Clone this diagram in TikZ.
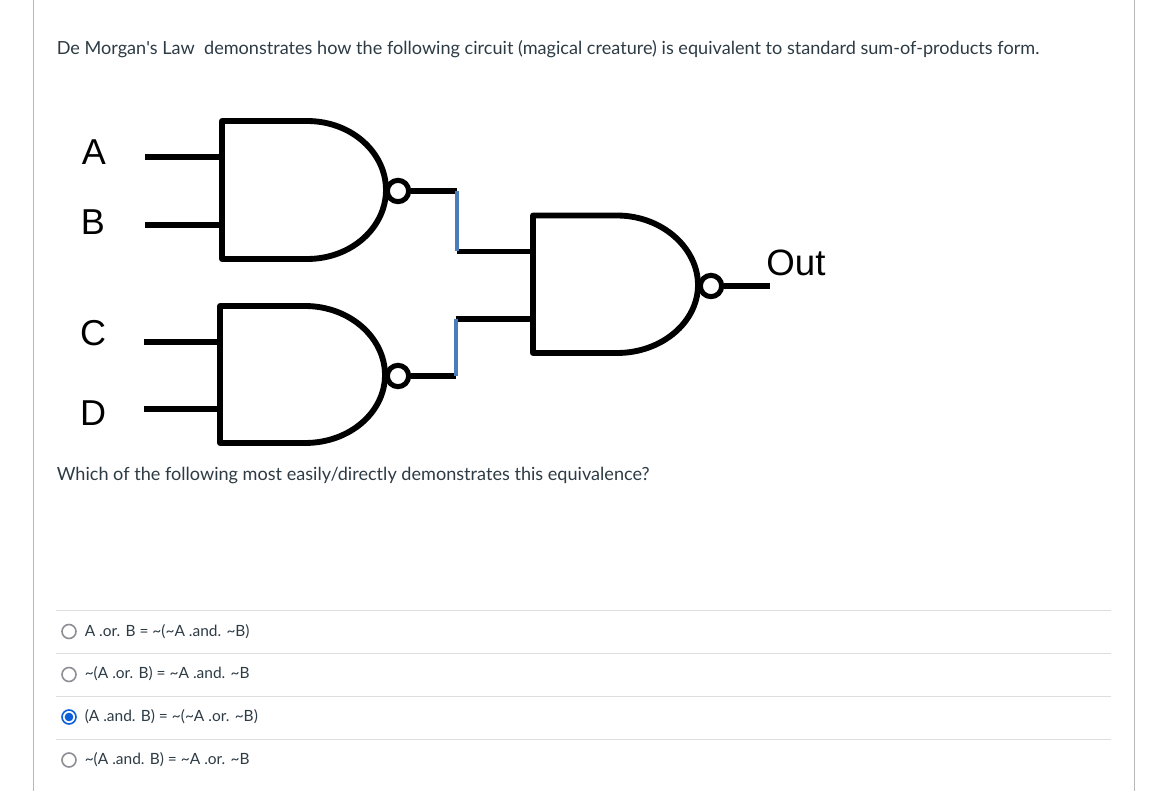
\documentclass[tikz,border=0pt]{standalone}
\usepackage{fontspec}
\setmainfont{Lato}
\newfontfamily\arialfont{Liberation Sans}
\newcommand{\nt}{\textasciitilde}
\definecolor{wireblue}{HTML}{4A7EBB}
\definecolor{rulegray}{HTML}{DCDEDF}
\definecolor{framegray}{HTML}{B5B7B9}
\definecolor{radiogray}{HTML}{8D8F95}
\definecolor{radioblue}{HTML}{0C5FD8}
\definecolor{textgray}{HTML}{2D3B45}
\tikzset{
  gatebody/.style={line width=4.4pt,line join=round},
  wire/.style={line width=3.8pt},
  bluewire/.style={line width=3.2pt,color=wireblue},
  bubble/.style={draw,circle,line width=3.8pt,inner sep=0,minimum size=16pt,fill=white},
  pinlabel/.style={font=\arialfont\fontsize{27}{30}\selectfont,inner sep=0},
  bodytext/.style={font=\fontsize{13.57}{16}\selectfont,color=textgray,anchor=base west,inner sep=0},
  answer/.style={font=\fontsize{11.6}{14}\selectfont,color=textgray,anchor=base west,inner sep=0},
  radio/.style={draw=radiogray,circle,line width=1.2pt,inner sep=0,minimum size=10.5pt,fill=white},
  answerrule/.style={draw=rulegray,line width=0.75pt},
}
\begin{document}
\begin{tikzpicture}[x=0.75pt,y=-0.75pt]
  \useasboundingbox (0,0) rectangle (1156,791);

  % page frame
  \coordinate (frameLT) at (33.5,0);
  \coordinate (frameLB) at (33.5,791);
  \coordinate (frameRT) at (1134.5,0);
  \coordinate (frameRB) at (1134.5,791);
  \draw[framegray,line width=0.75pt] (frameLT) -- (frameLB);
  \draw[framegray,line width=0.75pt] (frameRT) -- (frameRB);

  \node[bodytext] (intro) at (56.5,54.7) {De Morgan\textquotesingle s Law\ \ demonstrates how the following circuit (magical creature) is equivalent to standard sum-of-products form.};
  \node[bodytext] (question) at (56.5,480) {Which of the following most easily/directly demonstrates this equivalence?};

  % first gate
  \draw[gatebody] (222,121) -- (307,121) .. controls (352,121) and (386,153) .. (386,190)
    .. controls (386,227) and (352,259) .. (307,259) -- (222,259) -- cycle;
  \node[bubble] (n1) at (398,191) {};
  % second gate
  \draw[gatebody] (220,306) -- (305,306) .. controls (350,306) and (385,338) .. (385,375)
    .. controls (385,412) and (350,443) .. (305,443) -- (220,443) -- cycle;
  \node[bubble] (n2) at (398,376) {};
  % output gate
  \draw[gatebody] (533,215.5) -- (617,215.5) .. controls (662,215.5) and (698,248) .. (698,285)
    .. controls (698,322) and (662,353) .. (617,353) -- (533,353) -- cycle;
  \node[bubble] (n3) at (711,286) {};

  \node[pinlabel] (A) at (94,152) {A};
  \node[pinlabel] (B) at (93,222.5) {B};
  \node[pinlabel] (C) at (93,333) {C};
  \node[pinlabel] (D) at (93,413) {D};
  \node[pinlabel,font=\arialfont\fontsize{27.5}{30}\selectfont] (out) at (796,263) {Out};

  \coordinate (a0) at (145,157);
  \coordinate (a1) at (222,157);
  \coordinate (b0) at (145,225);
  \coordinate (b1) at (222,225);
  \coordinate (c0) at (144,342);
  \coordinate (c1) at (220,342);
  \coordinate (d0) at (144,409);
  \coordinate (d1) at (220,409);
  \draw[wire] (a0) -- (a1);
  \draw[wire] (b0) -- (b1);
  \draw[wire] (c0) -- (c1);
  \draw[wire] (d0) -- (d1);

  \coordinate (j1) at (457,191);
  \coordinate (j2) at (457,251.5);
  \coordinate (g1) at (533,251.5);
  \coordinate (j3) at (456,376);
  \coordinate (j4) at (456,319);
  \coordinate (g2) at (533,319);
  \coordinate (end) at (770,286);

  \draw[wire] (n1) -- (j1);
  \draw[wire] (n2) -- (j3);
  \draw[wire] (j2) -- (g1);
  \draw[wire] (j4) -- (g2);
  \draw[wire] (n3) -- (end);
  \draw[bluewire] (j1) -- (j2);
  \draw[bluewire] (j3) -- (j4);

  % answers
  \coordinate (r1L) at (56,610.5);
  \coordinate (r1R) at (1111,610.5);
  \coordinate (r2L) at (56,653.5);
  \coordinate (r2R) at (1111,653.5);
  \coordinate (r3L) at (56,696.5);
  \coordinate (r3R) at (1111,696.5);
  \coordinate (r4L) at (56,739.5);
  \coordinate (r4R) at (1111,739.5);
  \draw[answerrule] (r1L) -- (r1R);
  \draw[answerrule] (r2L) -- (r2R);
  \draw[answerrule] (r3L) -- (r3R);
  \draw[answerrule] (r4L) -- (r4R);

  \node[radio] (o1) at (69,631.5) {};
  \node[radio] (o2) at (69,674.5) {};
  \node[radio,draw=radioblue] (o3) at (69,717) {};
  \node[circle,fill=radioblue,inner sep=0,minimum size=6.5pt] (o3dot) at (o3) {};
  \node[radio] (o4) at (69,760) {};

  \node[answer] (t1) at (84.5,636) {A .or. B = \nt(\nt A .and. \nt B)};
  \node[answer] (t2) at (84.5,678) {\nt(A .or. B) = \nt A .and. \nt B};
  \node[answer] (t3) at (84.5,721) {(A .and. B) = \nt(\nt A .or. \nt B)};
  \node[answer] (t4) at (84.5,764) {\nt(A .and. B) = \nt A .or. \nt B};
\end{tikzpicture}
\end{document}
